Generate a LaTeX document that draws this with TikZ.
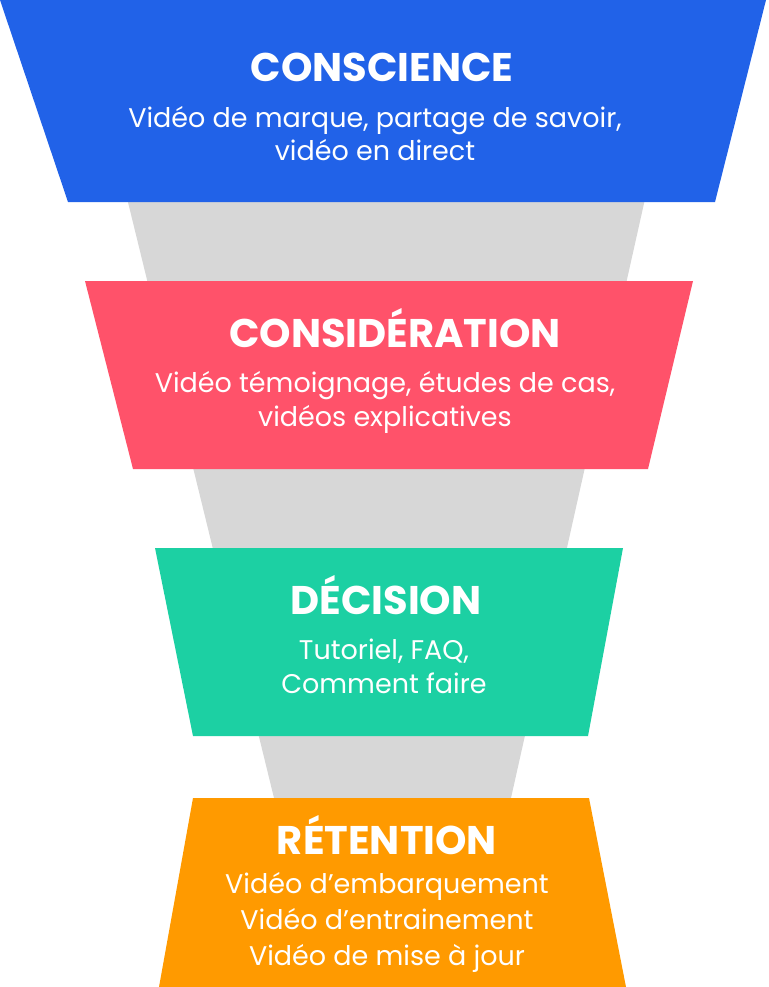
\documentclass[tikz,border=0pt]{standalone}
\usepackage{fontspec}
\setmainfont{Poppins}
\definecolor{myblue}{RGB}{33,98,232}
\definecolor{myred}{RGB}{255,82,106}
\definecolor{mygreen}{RGB}{28,208,163}
\definecolor{myorange}{RGB}{255,154,0}
\definecolor{mygray}{RGB}{215,215,215}
\tikzstyle{funnel}=[mygray]
\tikzstyle{stage title}=[white,anchor=base,inner sep=0,
                         font=\fontsize{40}{40}\selectfont\bfseries]
\tikzstyle{stage text}=[white,anchor=base,inner sep=0,align=center,
                        font=\fontsize{27}{33.5}\selectfont]

\begin{document}
\begin{tikzpicture}[x=1pt,y=-1pt]
  \useasboundingbox (0,0) rectangle (768,987);
  
  \coordinate (F1) at (125,190); % funnel top left
  \coordinate (F2) at (647,190); % funnel top right
  \coordinate (F3) at (511,798); % funnel bottom right
  \coordinate (F4) at (274,798); % funnel bottom left
  
  % FUNNEL
  \fill[funnel] (F1) -- (F2) -- (F3) -- (F4) -- cycle;
  
  % STAGES
  \fill[myblue]   (0,0)     -- (766,0)   -- (715,202) -- (68,202)  -- cycle; % awareness
  \fill[myred]    (85,281)  -- (693,281) -- (648,469) -- (133,469) -- cycle; % consideration
  \fill[mygreen]  (155,548) -- (623,548) -- (588,736) -- (193,736) -- cycle; % decision
  \fill[myorange] (193,798) -- (589,798) -- (626,987) -- (159,987) -- cycle; % retention
  
  % LABELS (text nodes sit on the baseline of their last line)
  \node[stage title] (conscience) at (382,82) {CONSCIENCE};
  \node[stage text]  (conscience text) at (375,161)
    {Vidéo de marque, partage de savoir,\\vidéo en direct};
  
  \node[stage title] (consideration) at (395,347) {CONSIDÉRATION};
  \node[stage text]  (consideration text) at (385,426)
    {Vidéo témoignage, études de cas,\\vidéos explicatives};
  
  \node[stage title] (decision) at (386,614) {DÉCISION};
  \node[stage text]  (decision text) at (384,693)
    {Tutoriel, FAQ,\\Comment faire};
  
  \node[stage title] (retention) at (387,854) {RÉTENTION};
  \node[stage text,font=\fontsize{27}{36}\selectfont] (retention text) at (387,965)
    {Vidéo d’embarquement\\Vidéo d’entrainement\\Vidéo de mise à jour};
  
\end{tikzpicture}
\end{document}
